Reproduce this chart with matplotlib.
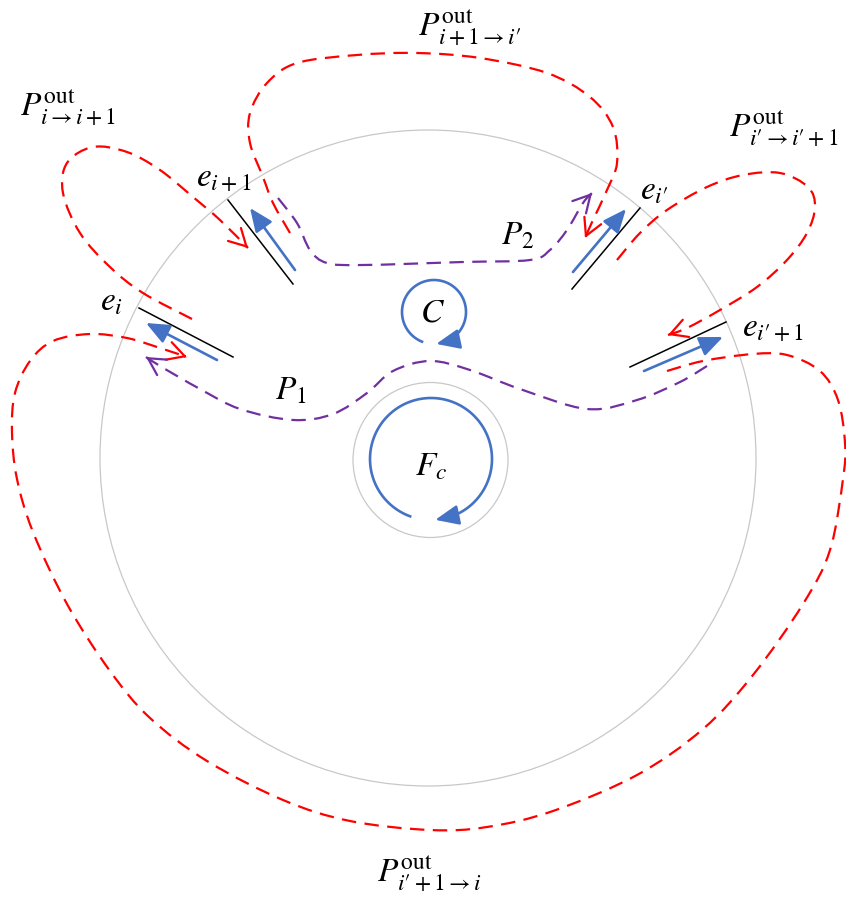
import numpy as np
import matplotlib
matplotlib.use("Agg")
import matplotlib.pyplot as plt
from matplotlib.path import Path
from matplotlib.patches import PathPatch, Circle

plt.rcParams['mathtext.fontset'] = 'stix'

RED = '#FF0000'
PURPLE = '#7030A0'
BLUE = '#4472C4'
GREY = '#C8C8C8'

# circles (pixel coords: center x, center y, radius)
big_circle = (428, 458, 328)
small_circle = (430.5, 460, 77.5)

# edges e_i and the blue arrows next to them
edge_names = [r'$e_{i+1}$', r'$e_i$', r"$e_{i\prime}$", r"$e_{i\prime+1}$"]
edge_label_xy = [(224, 177), (111, 301), (654, 190), (773, 327)]
edges = [((228, 200), (293, 284)), ((139, 308), (233, 357)),
         ((572, 289), (640, 208)), ((630, 367), (726, 322))]
blue_arrows = [((295, 270), (250, 208)), ((217, 360), (146, 323)),
               ((573, 272), (626, 209)), ((644, 371), (723, 337))]

# outside paths (red), arrow at the end
loop_a = [(192, 319), (143, 293), (110, 267), (80, 233), (63, 193), (67, 163),
          (93, 147), (127, 152), (160, 170), (193, 197), (220, 220), (248, 248)]
loop_b = [(290, 233), (273, 203), (263, 177), (250, 143), (250, 113), (267, 83),
          (297, 63), (357, 55), (417, 53), (480, 58), (547, 73), (590, 97),
          (613, 127), (617, 163), (607, 190), (593, 220), (585, 238)]
loop_c = [(617, 260), (640, 233), (667, 210), (707, 187), (743, 175), (780, 173),
          (808, 187), (815, 207), (807, 233), (787, 260), (757, 287), (720, 310),
          (687, 328), (668, 335)]
loop_d = [(667, 371), (703, 361), (753, 354), (787, 355), (820, 371), (838, 400),
          (845, 443), (843, 479), (830, 550), (803, 604), (753, 675), (703, 729),
          (637, 775), (553, 811), (487, 827), (430, 830), (350, 821), (283, 800),
          (207, 761), (150, 718), (110, 671), (67, 604), (33, 532), (17, 479),
          (12, 432), (15, 393), (30, 361), (53, 341), (90, 334), (127, 338),
          (160, 348), (187, 357)]
out_loops = [loop_a, loop_b, loop_c, loop_d]
out_names = [r'$P_{i\rightarrow i+1}^{\mathrm{out}}$',
             r"$P_{i+1\rightarrow i\prime}^{\mathrm{out}}$",
             r"$P_{i\prime\rightarrow i\prime+1}^{\mathrm{out}}$",
             r"$P_{i\prime+1\rightarrow i}^{\mathrm{out}}$"]
out_label_xy = [(68, 107), (470, 27), (784, 128), (429, 873)]

# inside paths (purple)
p1 = [(146, 357), (160, 366), (200, 389), (240, 409), (293, 420), (333, 414),
      (367, 393), (393, 371), (430, 361), (470, 370), (520, 389), (587, 409),
      (637, 400), (680, 382), (707, 366)]
p2 = [(278, 198), (297, 223), (310, 250), (327, 263), (363, 265), (463, 262),
      (530, 260), (550, 250), (567, 230), (583, 203), (592, 193)]
inner_names = [r'$P_1$', r'$P_2$', r'$C$', r'$F_c$']
inner_label_xy = [(291, 390), (518, 235), (432, 312), (431, 466)]

# circular arrows: center x, center y, radius, start angle, end angle (deg)
loop_arrows = [(434, 312, 32, 112, 446), (431, 459, 61, 110, 446)]


def smooth_path(pts):
    pts = np.array(pts, dtype=float)
    ext = np.vstack([pts[0], pts, pts[-1]])
    verts = [pts[0]]
    codes = [Path.MOVETO]
    for k in range(1, len(ext) - 2):
        p0, p1_, p2_, p3 = ext[k - 1], ext[k], ext[k + 1], ext[k + 2]
        verts += [p1_ + (p2_ - p0) / 6, p2_ - (p3 - p1_) / 6, p2_]
        codes += [Path.CURVE4] * 3
    return Path(verts, codes)


def open_head(ax, tip, prev, color):
    tip = np.array(tip, float)
    d = tip - np.array(prev, float)
    d = d / np.hypot(*d)
    ax.annotate('', xy=tip, xytext=tip - d * 3,
                arrowprops=dict(arrowstyle='->,head_length=0.55,head_width=0.3',
                                color=color, lw=1.6, shrinkA=0, shrinkB=0,
                                mutation_scale=22))


fig = plt.figure(figsize=(8.46, 9.01), dpi=100)
ax = fig.add_axes([0, 0, 1, 1])
ax.set_xlim(0, 846)
ax.set_ylim(901, 0)
ax.axis('off')

for cx, cy, r in [big_circle, small_circle]:
    ax.add_patch(Circle((cx, cy), r, fill=False, ec=GREY, lw=0.9))

for (a, b) in edges:
    ax.plot([a[0], b[0]], [a[1], b[1]], color='black', lw=1.1)
for (tail, tip) in blue_arrows:
    ax.annotate('', xy=tip, xytext=tail,
                arrowprops=dict(arrowstyle='-|>,head_length=0.75,head_width=0.32',
                                color=BLUE, lw=1.9, shrinkA=0, shrinkB=0,
                                mutation_scale=19))

dash = (0, (6.5, 3.8))
for pts in out_loops:
    ax.add_patch(PathPatch(smooth_path(pts), fill=False, ec=RED, lw=1.6, ls=dash))
    open_head(ax, pts[-1], pts[-2], RED)

ax.add_patch(PathPatch(smooth_path(p1), fill=False, ec=PURPLE, lw=1.6, ls=dash))
open_head(ax, p1[0], p1[1], PURPLE)
ax.add_patch(PathPatch(smooth_path(p2), fill=False, ec=PURPLE, lw=1.6, ls=dash))
open_head(ax, p2[-1], p2[-2], PURPLE)

for cx, cy, r, t0, t1 in loop_arrows:
    t = np.radians(np.linspace(t0, t1 - 14, 120))
    ax.plot(cx + r * np.cos(t), cy + r * np.sin(t), color=BLUE, lw=1.9)
    a0, a1 = np.radians(t1 - 16), np.radians(t1)
    ax.annotate('', xy=(cx + r * np.cos(a1), cy + r * np.sin(a1)),
                xytext=(cx + r * np.cos(a0), cy + r * np.sin(a0)),
                arrowprops=dict(arrowstyle='-|>,head_length=0.75,head_width=0.32',
                                color=BLUE, lw=1.9, shrinkA=0, shrinkB=0,
                                mutation_scale=19))

for name, (x, y) in zip(edge_names, edge_label_xy):
    ax.text(x, y, name, fontsize=24, ha='center', va='center')
for name, (x, y) in zip(out_names, out_label_xy):
    ax.text(x, y, name, fontsize=24, ha='center', va='center')
for name, (x, y) in zip(inner_names, inner_label_xy):
    ax.text(x, y, name, fontsize=24, ha='center', va='center')

fig.savefig('out.png', dpi=100)
